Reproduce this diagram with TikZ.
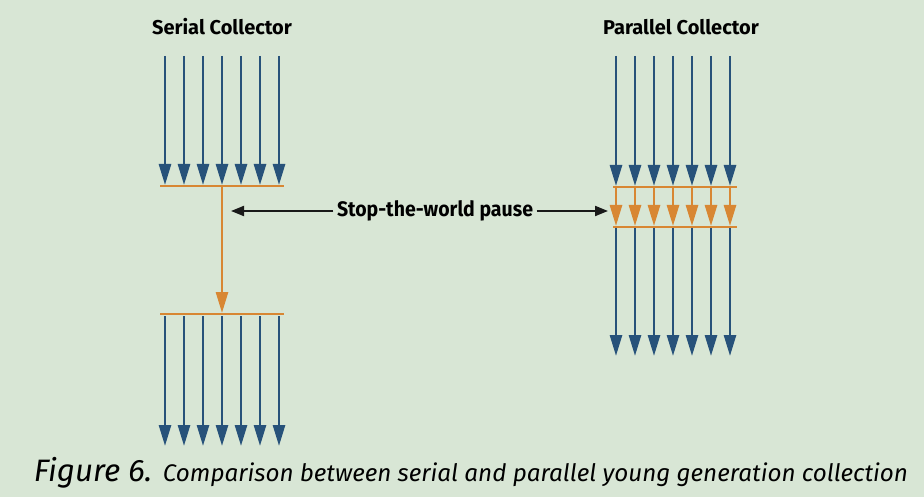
\documentclass[tikz,border=0pt]{standalone}
\usepackage{fontspec}
\setmainfont{Fira Sans}
\usetikzlibrary{arrows.meta}
\definecolor{fondo}{HTML}{D8E6D5}
\definecolor{azul}{HTML}{27527A}
\definecolor{naranja}{HTML}{D88733}
\begin{document}
\begin{tikzpicture}[x=1pt, y=-1pt,
    hilo/.style={draw=azul, line width=2.7pt, -{Triangle[width=12pt,length=21pt]}},
    pausa/.style={draw=naranja, line width=2.7pt, -{Triangle[width=12pt,length=21pt]}},
    barra/.style={draw=naranja, line width=2.7pt},
    flecha/.style={draw=black!90, line width=2pt, -{Triangle[width=10pt,length=13pt]}},
    titulo/.style={font=\fontsize{20}{24}\selectfont\bfseries}]

            % Fondo
            \fill[fondo] (0,0) rectangle (924,497);
            \useasboundingbox (0,0) rectangle (924,497);

            % Titulos
            \node[titulo] (serial) at (222,27) {Serial Collector};
            \node[titulo] (paralelo) at (681,27) {Parallel Collector};

            % Colector serie
            \coordinate (s1) at (160,186);
            \coordinate (s2) at (284,186);
            \coordinate (s3) at (160,314);
            \coordinate (s4) at (284,314);
            \foreach \i in {0,...,6} {
                \coordinate (sa\i) at (165+19*\i,56);
                \coordinate (sb\i) at (165+19*\i,185);
                \coordinate (sc\i) at (165+19*\i,316);
                \coordinate (sd\i) at (165+19*\i,446);
                \draw[hilo] (sa\i) -- (sb\i);
                \draw[hilo] (sc\i) -- (sd\i);
            }
            \draw[barra] (s1) -- (s2);
            \draw[barra] (s3) -- (s4);
            \coordinate (sm1) at (222,186);
            \coordinate (sm2) at (222,313);
            \draw[pausa] (sm1) -- (sm2);

            % Colector paralelo
            \coordinate (p1) at (613,187);
            \coordinate (p2) at (737,187);
            \coordinate (p3) at (613,227);
            \coordinate (p4) at (737,227);
            \foreach \i in {0,...,6} {
                \coordinate (pa\i) at (616+19*\i,56);
                \coordinate (pb\i) at (616+19*\i,186);
                \coordinate (pc\i) at (616+19*\i,188);
                \coordinate (pd\i) at (616+19*\i,226);
                \coordinate (pe\i) at (616+19*\i,228);
                \coordinate (pf\i) at (616+19*\i,356);
                \draw[hilo] (pa\i) -- (pb\i);
                \draw[pausa] (pc\i) -- (pd\i);
                \draw[hilo] (pe\i) -- (pf\i);
            }
            \draw[barra] (p1) -- (p2);
            \draw[barra] (p3) -- (p4);

            % Pausa
            \node[titulo, font=\fontsize{21}{24}\selectfont\bfseries] (stw) at (435,211) {\resizebox{196pt}{\height}{Stop-the-world pause}};
            \coordinate (izq) at (231,211);
            \coordinate (der) at (608,211);
            \draw[flecha] (stw.west) -- (izq);
            \draw[flecha] (stw.east) -- (der);

            % Pie de figura
            \node (pie) at (471,473) {\resizebox{874pt}{\height}{\itshape\fontsize{31}{34}\selectfont Figure 6. \fontsize{24}{27}\selectfont Comparison between serial and parallel young generation collection}};
        \end{tikzpicture}
\end{document}
